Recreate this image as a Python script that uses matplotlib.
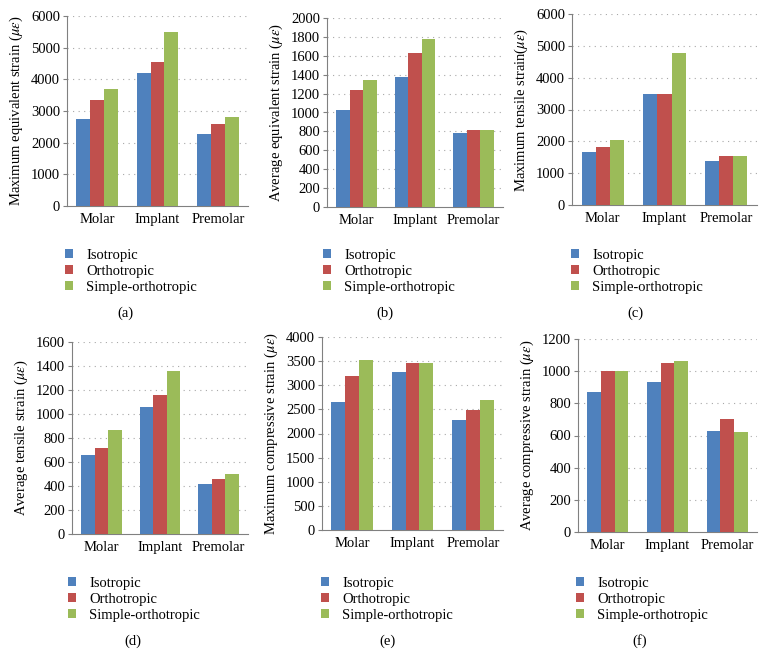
import numpy as np
import matplotlib.pyplot as plt

plt.rcParams['font.family'] = ['Liberation Serif', 'DejaVu Serif']
plt.rcParams['mathtext.fontset'] = 'stix'

# ==========================
# data
# ==========================
categories = ["Molar", "Implant", "Premolar"]
series = ["Isotropic", "Orthotropic", "Simple-orthotropic"]
colors = ["#4F81BD", "#C0504D", "#9BBB59"]

max_equiv = [[2750, 4200, 2270], [3350, 4550, 2600], [3700, 5500, 2800]]
avg_equiv = [[1030, 1380, 785], [1235, 1630, 810], [1345, 1780, 820]]
max_tens = [[1650, 3480, 1380], [1820, 3480, 1530], [2050, 4780, 1530]]
avg_tens = [[655, 1060, 420], [715, 1160, 460], [870, 1360, 500]]
max_comp = [[2650, 3270, 2280], [3200, 3470, 2480], [3520, 3460, 2700]]
avg_comp = [[870, 930, 625], [1003, 1048, 700], [998, 1062, 622]]

ylabels = [
    r"Maximum equivalent strain ($\mu\varepsilon$)",
    r"Average equivalent strain ($\mu\varepsilon$)",
    r"Maximum tensile strain($\mu\varepsilon$)",
    r"Average tensile strain ($\mu\varepsilon$)",
    r"Maximum compressive strain ($\mu\varepsilon$)",
    r"Average compressive strain ($\mu\varepsilon$)",
]
captions = ["(a)", "(b)", "(c)", "(d)", "(e)", "(f)"]
ymax = [6000, 2000, 6000, 1600, 4000, 1200]
ystep = [1000, 200, 1000, 200, 500, 200]

# ==========================
# layout (pixels)
# ==========================
W, H = 768, 655
fig = plt.figure(figsize=(W / 100, H / 100), dpi=100)

# left, right, top, bottom of each axes
boxes = [
    (67, 248, 16, 206),
    (327, 503, 18, 207),
    (572, 757, 14, 205),
    (72, 248, 342, 534),
    (322, 503, 337, 530),
    (578, 757, 339, 532),
]
# legend upper-left, caption center
legend_pos = [(65, 249), (323, 249), (571, 249), (68, 577), (321, 577), (576, 577)]
caption_pos = [(125, 313), (385, 313), (635, 313), (133, 641), (388, 641), (640, 641)]

all_data = [max_equiv, avg_equiv, max_tens, avg_tens, max_comp, avg_comp]

x = np.arange(len(categories))
bw = 0.23

for i, data in enumerate(all_data):
    l, r, t, b = boxes[i]
    ax = fig.add_axes([l / W, 1 - b / H, (r - l) / W, (b - t) / H])

    for j, vals in enumerate(data):
        ax.bar(x + (j - 1) * bw, vals, bw, color=colors[j], label=series[j],
               zorder=3)

    ax.set_xlim(-0.5, 2.5)
    ax.set_ylim(0, ymax[i])
    ax.set_yticks(np.arange(0, ymax[i] + 1, ystep[i]))
    ax.set_xticks(x)
    ax.set_xticklabels(categories)
    ax.tick_params(axis="x", length=0, labelsize=10.5, pad=5)
    ax.tick_params(axis="y", length=3, labelsize=10.5, color="#808080", pad=2)

    for yv in np.arange(ystep[i], ymax[i] + 1, ystep[i]):
        ax.axhline(yv, color="#a8a8a8", lw=0.8, ls=(0, (1, 4)), zorder=1)

    ax.spines["top"].set_visible(False)
    ax.spines["right"].set_visible(False)
    ax.spines["left"].set_color("#808080")
    ax.spines["bottom"].set_color("#808080")

    ax.set_ylabel(ylabels[i], fontsize=10.5, labelpad=4)

    lx, ly = legend_pos[i]
    ax.legend(loc="upper left", bbox_to_anchor=(lx / W, 1 - ly / H),
              bbox_transform=fig.transFigure, frameon=False, fontsize=10.5,
              handlelength=0.55, handleheight=0.55, handletextpad=0.9,
              labelspacing=0.2, borderaxespad=0, borderpad=0)

    cx, cy = caption_pos[i]
    fig.text(cx / W, 1 - cy / H, captions[i], ha="center", va="center",
             fontsize=10.5)

fig.savefig("out.png", dpi=100)
